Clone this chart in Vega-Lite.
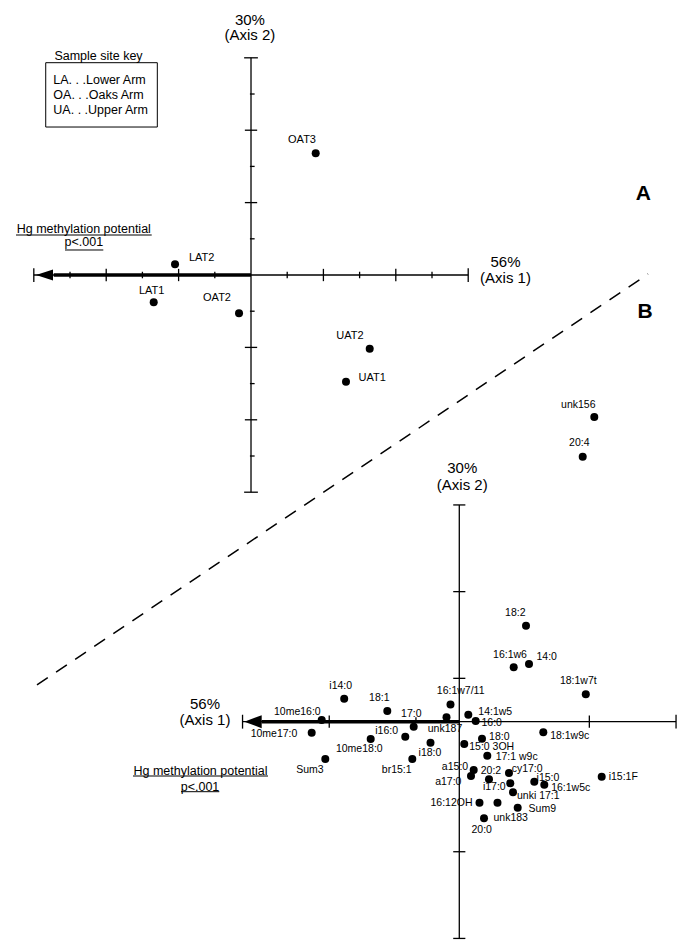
{
  "$schema": "https://vega.github.io/schema/vega-lite/v6.json",
  "width": 690,
  "height": 952,
  "padding": 0,
  "autosize": {"type": "none"},
  "background": "white",
  "config": {"view": {"stroke": null}, "font": "Liberation Sans"},
  "datasets": {
    "sitesA": [
      {"site": "OAT3", "x": 1.787, "y": 3.362, "lx": 1.409, "ly": 3.724},
      {"site": "LAT2", "x": -2.099, "y": 0.296, "lx": -1.362, "ly": 0.478},
      {"site": "LAT1", "x": -2.688, "y": -0.754, "lx": -2.743, "ly": -0.434},
      {"site": "OAT2", "x": -0.331, "y": -1.058, "lx": -0.939, "ly": -0.622},
      {"site": "UAT2", "x": 3.279, "y": -2.036, "lx": 2.735, "ly": -1.677},
      {"site": "UAT1", "x": 2.624, "y": -2.948, "lx": 3.348, "ly": -2.845}
    ],
    "acidsB": [
      {"acid": "unk156", "x": 3.114, "y": 7.029, "lx": 2.745, "ly": 7.306},
      {"acid": "20:4", "x": 2.847, "y": 6.113, "lx": 2.768, "ly": 6.422},
      {"acid": "18:2", "x": 1.539, "y": 2.215, "lx": 1.292, "ly": 2.501},
      {"acid": "16:1w6", "x": 1.255, "y": 1.255, "lx": 1.170, "ly": 1.532},
      {"acid": "14:0", "x": 1.608, "y": 1.331, "lx": 2.016, "ly": 1.499},
      {"acid": "18:1w7t", "x": 2.918, "y": 0.634, "lx": 2.745, "ly": 0.932},
      {"acid": "i14:0", "x": -2.655, "y": 0.531, "lx": -2.736, "ly": 0.817},
      {"acid": "18:1", "x": -1.661, "y": 0.247, "lx": -1.845, "ly": 0.540},
      {"acid": "16:1w7/11", "x": -0.203, "y": 0.397, "lx": 0.032, "ly": 0.715},
      {"acid": "10me16:0", "x": -3.174, "y": 0.039, "lx": -3.737, "ly": 0.231},
      {"acid": "10me17:0", "x": -3.405, "y": -0.254, "lx": -4.275, "ly": -0.291},
      {"acid": "17:0", "x": -1.052, "y": -0.115, "lx": -1.107, "ly": 0.178},
      {"acid": "i16:0", "x": -1.246, "y": -0.346, "lx": -1.675, "ly": -0.215},
      {"acid": "10me18:0", "x": -2.044, "y": -0.399, "lx": -2.307, "ly": -0.630},
      {"acid": "Sum3", "x": -3.091, "y": -0.860, "lx": -3.444, "ly": -1.114},
      {"acid": "br15:1", "x": -1.084, "y": -0.860, "lx": -1.444, "ly": -1.114},
      {"acid": "unk187", "x": -0.295, "y": 0.101, "lx": -0.330, "ly": -0.175},
      {"acid": "i18:0", "x": -0.664, "y": -0.487, "lx": -0.676, "ly": -0.715},
      {"acid": "14:1w5", "x": 0.208, "y": 0.161, "lx": 0.830, "ly": 0.231},
      {"acid": "16:0", "x": 0.378, "y": 0.016, "lx": 0.747, "ly": -0.023},
      {"acid": "18:1w9c", "x": 1.938, "y": -0.245, "lx": 2.547, "ly": -0.323},
      {"acid": "18:0", "x": 0.524, "y": -0.392, "lx": 0.923, "ly": -0.346},
      {"acid": "15:0 3OH", "x": 0.115, "y": -0.514, "lx": 0.747, "ly": -0.590},
      {"acid": "17:1 w9c", "x": 0.646, "y": -0.784, "lx": 1.324, "ly": -0.820},
      {"acid": "a15:0", "x": 0.332, "y": -1.114, "lx": -0.099, "ly": -1.038},
      {"acid": "a17:0", "x": 0.270, "y": -1.253, "lx": -0.254, "ly": -1.384},
      {"acid": "20:2", "x": 0.685, "y": -1.329, "lx": 0.731, "ly": -1.137},
      {"acid": "cy17:0", "x": 1.146, "y": -1.183, "lx": 1.565, "ly": -1.090},
      {"acid": "i17:0", "x": 1.176, "y": -1.421, "lx": 0.807, "ly": -1.506},
      {"acid": "i15:0", "x": 1.730, "y": -1.384, "lx": 2.045, "ly": -1.300},
      {"acid": "16:1w5c", "x": 1.961, "y": -1.453, "lx": 2.570, "ly": -1.535},
      {"acid": "i15:1F", "x": 3.285, "y": -1.269, "lx": 3.783, "ly": -1.269},
      {"acid": "unki 17:1", "x": 1.239, "y": -1.629, "lx": 1.822, "ly": -1.714},
      {"acid": "16:12OH", "x": 0.466, "y": -1.869, "lx": -0.180, "ly": -1.875},
      {"acid": "unk183", "x": 0.881, "y": -1.869, "lx": 1.186, "ly": -2.228},
      {"acid": "Sum9", "x": 1.347, "y": -1.984, "lx": 1.915, "ly": -2.021},
      {"acid": "20:0", "x": 0.570, "y": -2.228, "lx": 0.517, "ly": -2.498}
    ]
  },
  "layer": [
    {
      "layer": [
        {
          "data": {"values": [{}]},
          "mark": {"type": "rule", "color": "black", "strokeWidth": 1.5, "strokeDash": [13, 10]},
          "encoding": {
            "x": {"datum": -5.912, "type": "quantitative", "scale": {"domain": [-6.934, 12.127], "nice": false, "zero": false}, "axis": null},
            "x2": {"datum": 10.967},
            "y": {"datum": -11.326, "type": "quantitative", "scale": {"domain": [-18.702, 7.597], "nice": false, "zero": false}, "axis": null},
            "y2": {"datum": 0.028}
          }
        },
        {
          "data": {"values": [{}]},
          "mark": {"type": "rect", "fill": "white", "stroke": "black", "strokeWidth": 1},
          "encoding": {
            "x": {"datum": -5.671, "type": "quantitative", "scale": {"domain": [-6.934, 12.127], "nice": false, "zero": false}, "axis": null},
            "x2": {"datum": -2.588},
            "y": {"datum": 5.865, "type": "quantitative", "scale": {"domain": [-18.702, 7.597], "nice": false, "zero": false}, "axis": null},
            "y2": {"datum": 4.088}
          }
        },
        {
          "data": {"values": [{}]},
          "mark": {"type": "rule", "color": "black", "strokeWidth": 1.3},
          "encoding": {
            "x": {"datum": -6, "type": "quantitative", "scale": {"domain": [-6.934, 12.127], "nice": false, "zero": false}, "axis": null},
            "x2": {"datum": 6},
            "y": {"datum": 0, "type": "quantitative", "scale": {"domain": [-18.702, 7.597], "nice": false, "zero": false}, "axis": null}
          }
        },
        {
          "data": {"values": [{}]},
          "mark": {"type": "rule", "color": "black", "strokeWidth": 1.3},
          "encoding": {
            "x": {"datum": 0, "type": "quantitative", "scale": {"domain": [-6.934, 12.127], "nice": false, "zero": false}, "axis": null},
            "y": {"datum": -6, "type": "quantitative", "scale": {"domain": [-18.702, 7.597], "nice": false, "zero": false}, "axis": null},
            "y2": {"datum": 6}
          }
        },
        {
          "data": {"values": [{}]},
          "mark": {"type": "rule", "color": "black", "strokeWidth": 3.5},
          "encoding": {
            "x": {"datum": -5.45, "type": "quantitative", "scale": {"domain": [-6.934, 12.127], "nice": false, "zero": false}, "axis": null},
            "x2": {"datum": 0},
            "y": {"datum": 0, "type": "quantitative", "scale": {"domain": [-18.702, 7.597], "nice": false, "zero": false}, "axis": null}
          }
        },
        {
          "data": {"values": [{}]},
          "mark": {"type": "point", "shape": "M-1,0L1,-0.65L1,0.65Z", "size": 289, "filled": true, "color": "black", "opacity": 1},
          "encoding": {
            "x": {"datum": -5.704, "type": "quantitative", "scale": {"domain": [-6.934, 12.127], "nice": false, "zero": false}, "axis": null},
            "y": {"datum": 0, "type": "quantitative", "scale": {"domain": [-18.702, 7.597], "nice": false, "zero": false}, "axis": null}
          }
        },
        {
          "data": {"values": [{"t": -5}, {"t": -3}, {"t": -1}, {"t": 1}, {"t": 3}, {"t": 5}]},
          "mark": {"type": "rule", "color": "black", "strokeWidth": 1.3},
          "encoding": {
            "x": {"field": "t", "type": "quantitative", "scale": {"domain": [-6.934, 12.127], "nice": false, "zero": false}, "axis": null},
            "y": {"datum": -0.09, "type": "quantitative", "scale": {"domain": [-18.702, 7.597], "nice": false, "zero": false}, "axis": null},
            "y2": {"datum": 0.09}
          }
        },
        {
          "data": {"values": [{"t": -4}, {"t": -2}, {"t": 2}, {"t": 4}]},
          "mark": {"type": "rule", "color": "black", "strokeWidth": 1.3},
          "encoding": {
            "x": {"field": "t", "type": "quantitative", "scale": {"domain": [-6.934, 12.127], "nice": false, "zero": false}, "axis": null},
            "y": {"datum": -0.17, "type": "quantitative", "scale": {"domain": [-18.702, 7.597], "nice": false, "zero": false}, "axis": null},
            "y2": {"datum": 0.17}
          }
        },
        {
          "data": {"values": [{"t": -6}, {"t": 6}]},
          "mark": {"type": "rule", "color": "black", "strokeWidth": 1.3},
          "encoding": {
            "x": {"field": "t", "type": "quantitative", "scale": {"domain": [-6.934, 12.127], "nice": false, "zero": false}, "axis": null},
            "y": {"datum": -0.19, "type": "quantitative", "scale": {"domain": [-18.702, 7.597], "nice": false, "zero": false}, "axis": null},
            "y2": {"datum": 0.19}
          }
        },
        {
          "data": {"values": [{"t": -5}, {"t": -3}, {"t": -1}, {"t": 1}, {"t": 3}, {"t": 5}]},
          "mark": {"type": "rule", "color": "black", "strokeWidth": 1.3},
          "encoding": {
            "y": {"field": "t", "type": "quantitative", "scale": {"domain": [-18.702, 7.597], "nice": false, "zero": false}, "axis": null},
            "x": {"datum": -0.03, "type": "quantitative", "scale": {"domain": [-6.934, 12.127], "nice": false, "zero": false}, "axis": null},
            "x2": {"datum": 0.1}
          }
        },
        {
          "data": {"values": [{"t": -4}, {"t": -2}, {"t": 2}, {"t": 4}]},
          "mark": {"type": "rule", "color": "black", "strokeWidth": 1.3},
          "encoding": {
            "y": {"field": "t", "type": "quantitative", "scale": {"domain": [-18.702, 7.597], "nice": false, "zero": false}, "axis": null},
            "x": {"datum": -0.17, "type": "quantitative", "scale": {"domain": [-6.934, 12.127], "nice": false, "zero": false}, "axis": null},
            "x2": {"datum": 0.17}
          }
        },
        {
          "data": {"values": [{"t": -6}, {"t": 6}]},
          "mark": {"type": "rule", "color": "black", "strokeWidth": 1.3},
          "encoding": {
            "y": {"field": "t", "type": "quantitative", "scale": {"domain": [-18.702, 7.597], "nice": false, "zero": false}, "axis": null},
            "x": {"datum": -0.19, "type": "quantitative", "scale": {"domain": [-6.934, 12.127], "nice": false, "zero": false}, "axis": null},
            "x2": {"datum": 0.19}
          }
        },
        {
          "data": {"values": [{"x": -6.492, "x2": -2.743, "y": 1.105}, {"x": -5.138, "x2": -4.080, "y": 0.691}]},
          "mark": {"type": "rule", "color": "black", "strokeWidth": 1},
          "encoding": {
            "x": {"field": "x", "type": "quantitative", "scale": {"domain": [-6.934, 12.127], "nice": false, "zero": false}, "axis": null},
            "x2": {"field": "x2"},
            "y": {"field": "y", "type": "quantitative", "scale": {"domain": [-18.702, 7.597], "nice": false, "zero": false}, "axis": null}
          }
        },
        {
          "data": {"name": "sitesA"},
          "mark": {"type": "circle", "size": 64, "color": "black", "opacity": 1},
          "encoding": {
            "x": {"field": "x", "type": "quantitative", "scale": {"domain": [-6.934, 12.127], "nice": false, "zero": false}, "axis": null},
            "y": {"field": "y", "type": "quantitative", "scale": {"domain": [-18.702, 7.597], "nice": false, "zero": false}, "axis": null}
          }
        },
        {
          "data": {"name": "sitesA"},
          "mark": {"type": "text", "fontSize": 11, "align": "center", "baseline": "middle", "color": "black"},
          "encoding": {
            "x": {"field": "lx", "type": "quantitative", "scale": {"domain": [-6.934, 12.127], "nice": false, "zero": false}, "axis": null},
            "y": {"field": "ly", "type": "quantitative", "scale": {"domain": [-18.702, 7.597], "nice": false, "zero": false}, "axis": null},
            "text": {"field": "site"}
          }
        },
        {
          "data": {"values": [
            {"t": "30%", "x": -0.03, "y": 7.058},
            {"t": "(Axis 2)", "x": -0.03, "y": 6.630},
            {"t": "56%", "x": 7.03, "y": 0.36},
            {"t": "(Axis 1)", "x": 7.03, "y": -0.091}
          ]},
          "mark": {"type": "text", "fontSize": 15, "align": "center", "baseline": "middle", "color": "black"},
          "encoding": {
            "x": {"field": "x", "type": "quantitative", "scale": {"domain": [-6.934, 12.127], "nice": false, "zero": false}, "axis": null},
            "y": {"field": "y", "type": "quantitative", "scale": {"domain": [-18.702, 7.597], "nice": false, "zero": false}, "axis": null},
            "text": {"field": "t"}
          }
        },
        {
          "data": {"values": [
            {"t": "Sample site key", "x": -4.213, "y": 6.055},
            {"t": "Hg methylation potential", "x": -4.619, "y": 1.265},
            {"t": "p<.001", "x": -4.619, "y": 0.898}
          ]},
          "mark": {"type": "text", "fontSize": 12.5, "align": "center", "baseline": "middle", "color": "black"},
          "encoding": {
            "x": {"field": "x", "type": "quantitative", "scale": {"domain": [-6.934, 12.127], "nice": false, "zero": false}, "axis": null},
            "y": {"field": "y", "type": "quantitative", "scale": {"domain": [-18.702, 7.597], "nice": false, "zero": false}, "axis": null},
            "text": {"field": "t"}
          }
        },
        {
          "data": {"values": [
            {"t": "LA. . .Lower Arm", "x": -5.461, "y": 5.387},
            {"t": "OA. . .Oaks Arm", "x": -5.461, "y": 4.972},
            {"t": "UA. . .Upper Arm", "x": -5.461, "y": 4.558}
          ]},
          "mark": {"type": "text", "fontSize": 12.5, "align": "left", "baseline": "middle", "color": "black"},
          "encoding": {
            "x": {"field": "x", "type": "quantitative", "scale": {"domain": [-6.934, 12.127], "nice": false, "zero": false}, "axis": null},
            "y": {"field": "y", "type": "quantitative", "scale": {"domain": [-18.702, 7.597], "nice": false, "zero": false}, "axis": null},
            "text": {"field": "t"}
          }
        },
        {
          "data": {"values": [
            {"t": "A", "x": 10.837, "y": 2.238},
            {"t": "B", "x": 10.884, "y": -1.022}
          ]},
          "mark": {"type": "text", "fontSize": 21, "fontWeight": "bold", "align": "center", "baseline": "middle", "color": "black"},
          "encoding": {
            "x": {"field": "x", "type": "quantitative", "scale": {"domain": [-6.934, 12.127], "nice": false, "zero": false}, "axis": null},
            "y": {"field": "y", "type": "quantitative", "scale": {"domain": [-18.702, 7.597], "nice": false, "zero": false}, "axis": null},
            "text": {"field": "t"}
          }
        }
      ]
    },
    {
      "layer": [
        {
          "data": {"values": [{}]},
          "mark": {"type": "rule", "color": "black", "strokeWidth": 1.3},
          "encoding": {
            "x": {"datum": -5, "type": "quantitative", "scale": {"domain": [-10.595, 5.322], "nice": false, "zero": false}, "axis": null},
            "x2": {"datum": 5},
            "y": {"datum": 0, "type": "quantitative", "scale": {"domain": [-5.313, 16.648], "nice": false, "zero": false}, "axis": null}
          }
        },
        {
          "data": {"values": [{}]},
          "mark": {"type": "rule", "color": "black", "strokeWidth": 1.3},
          "encoding": {
            "x": {"datum": 0, "type": "quantitative", "scale": {"domain": [-10.595, 5.322], "nice": false, "zero": false}, "axis": null},
            "y": {"datum": -5, "type": "quantitative", "scale": {"domain": [-5.313, 16.648], "nice": false, "zero": false}, "axis": null},
            "y2": {"datum": 5}
          }
        },
        {
          "data": {"values": [{}]},
          "mark": {"type": "rule", "color": "black", "strokeWidth": 3.5},
          "encoding": {
            "x": {"datum": -4.56, "type": "quantitative", "scale": {"domain": [-10.595, 5.322], "nice": false, "zero": false}, "axis": null},
            "x2": {"datum": 0},
            "y": {"datum": 0, "type": "quantitative", "scale": {"domain": [-5.313, 16.648], "nice": false, "zero": false}, "axis": null}
          }
        },
        {
          "data": {"values": [{}]},
          "mark": {"type": "point", "shape": "M-1,0L1,-0.75L1,0.75Z", "size": 303, "filled": true, "color": "black", "opacity": 1},
          "encoding": {
            "x": {"datum": -4.759, "type": "quantitative", "scale": {"domain": [-10.595, 5.322], "nice": false, "zero": false}, "axis": null},
            "y": {"datum": 0, "type": "quantitative", "scale": {"domain": [-5.313, 16.648], "nice": false, "zero": false}, "axis": null}
          }
        },
        {
          "data": {"values": [{"t": -1}]},
          "mark": {"type": "rule", "color": "black", "strokeWidth": 1.3},
          "encoding": {
            "x": {"field": "t", "type": "quantitative", "scale": {"domain": [-10.595, 5.322], "nice": false, "zero": false}, "axis": null},
            "y": {"datum": 0, "type": "quantitative", "scale": {"domain": [-5.313, 16.648], "nice": false, "zero": false}, "axis": null},
            "y2": {"datum": 0.1}
          }
        },
        {
          "data": {"values": [{"t": -3}, {"t": 3}]},
          "mark": {"type": "rule", "color": "black", "strokeWidth": 1.3},
          "encoding": {
            "x": {"field": "t", "type": "quantitative", "scale": {"domain": [-10.595, 5.322], "nice": false, "zero": false}, "axis": null},
            "y": {"datum": -0.14, "type": "quantitative", "scale": {"domain": [-5.313, 16.648], "nice": false, "zero": false}, "axis": null},
            "y2": {"datum": 0.14}
          }
        },
        {
          "data": {"values": [{"t": -5}, {"t": 5}]},
          "mark": {"type": "rule", "color": "black", "strokeWidth": 1.3},
          "encoding": {
            "x": {"field": "t", "type": "quantitative", "scale": {"domain": [-10.595, 5.322], "nice": false, "zero": false}, "axis": null},
            "y": {"datum": -0.16, "type": "quantitative", "scale": {"domain": [-5.313, 16.648], "nice": false, "zero": false}, "axis": null},
            "y2": {"datum": 0.16}
          }
        },
        {
          "data": {"values": [{"t": 1}, {"t": 3}, {"t": -3}, {"t": 5}, {"t": -5}]},
          "mark": {"type": "rule", "color": "black", "strokeWidth": 1.3},
          "encoding": {
            "y": {"field": "t", "type": "quantitative", "scale": {"domain": [-5.313, 16.648], "nice": false, "zero": false}, "axis": null},
            "x": {"datum": -0.14, "type": "quantitative", "scale": {"domain": [-10.595, 5.322], "nice": false, "zero": false}, "axis": null},
            "x2": {"datum": 0.14}
          }
        },
        {
          "data": {"values": [{"x": -7.527, "x2": -4.413, "y": -1.253}, {"x": -6.420, "x2": -5.536, "y": -1.615}]},
          "mark": {"type": "rule", "color": "black", "strokeWidth": 1},
          "encoding": {
            "x": {"field": "x", "type": "quantitative", "scale": {"domain": [-10.595, 5.322], "nice": false, "zero": false}, "axis": null},
            "x2": {"field": "x2"},
            "y": {"field": "y", "type": "quantitative", "scale": {"domain": [-5.313, 16.648], "nice": false, "zero": false}, "axis": null}
          }
        },
        {
          "data": {"name": "acidsB"},
          "mark": {"type": "circle", "size": 64, "color": "black", "opacity": 1},
          "encoding": {
            "x": {"field": "x", "type": "quantitative", "scale": {"domain": [-10.595, 5.322], "nice": false, "zero": false}, "axis": null},
            "y": {"field": "y", "type": "quantitative", "scale": {"domain": [-5.313, 16.648], "nice": false, "zero": false}, "axis": null}
          }
        },
        {
          "data": {"name": "acidsB"},
          "mark": {"type": "text", "fontSize": 10.5, "align": "center", "baseline": "middle", "color": "black"},
          "encoding": {
            "x": {"field": "lx", "type": "quantitative", "scale": {"domain": [-10.595, 5.322], "nice": false, "zero": false}, "axis": null},
            "y": {"field": "ly", "type": "quantitative", "scale": {"domain": [-5.313, 16.648], "nice": false, "zero": false}, "axis": null},
            "text": {"field": "acid"}
          }
        },
        {
          "data": {"values": [
            {"t": "30%", "x": 0.069, "y": 5.845},
            {"t": "(Axis 2)", "x": 0.069, "y": 5.460},
            {"t": "56%", "x": -5.866, "y": 0.415},
            {"t": "(Axis 1)", "x": -5.866, "y": 0.039}
          ]},
          "mark": {"type": "text", "fontSize": 15, "align": "center", "baseline": "middle", "color": "black"},
          "encoding": {
            "x": {"field": "x", "type": "quantitative", "scale": {"domain": [-10.595, 5.322], "nice": false, "zero": false}, "axis": null},
            "y": {"field": "y", "type": "quantitative", "scale": {"domain": [-5.313, 16.648], "nice": false, "zero": false}, "axis": null},
            "text": {"field": "t"}
          }
        },
        {
          "data": {"values": [
            {"t": "Hg methylation potential", "x": -5.970, "y": -1.137},
            {"t": "p<.001", "x": -5.981, "y": -1.506}
          ]},
          "mark": {"type": "text", "fontSize": 12.5, "align": "center", "baseline": "middle", "color": "black"},
          "encoding": {
            "x": {"field": "x", "type": "quantitative", "scale": {"domain": [-10.595, 5.322], "nice": false, "zero": false}, "axis": null},
            "y": {"field": "y", "type": "quantitative", "scale": {"domain": [-5.313, 16.648], "nice": false, "zero": false}, "axis": null},
            "text": {"field": "t"}
          }
        }
      ]
    }
  ],
  "resolve": {"scale": {"x": "independent", "y": "independent"}}
}
